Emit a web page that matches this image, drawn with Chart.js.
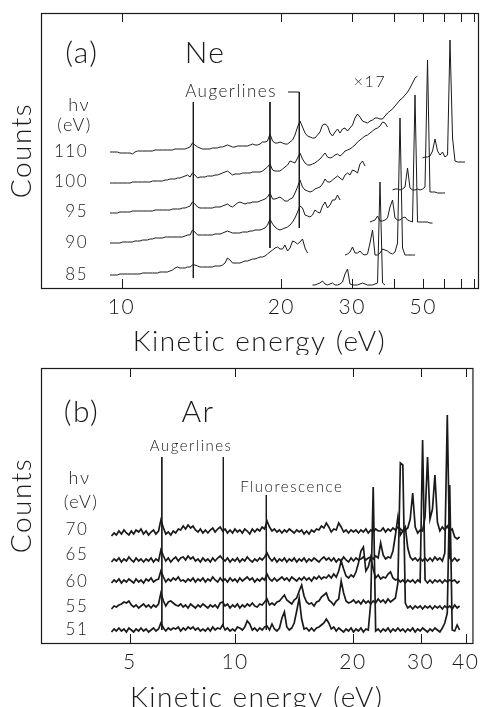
<!DOCTYPE html>
<html><head><meta charset="utf-8">
<script src="https://cdn.jsdelivr.net/npm/chart.js@4.4.1/dist/chart.umd.min.js"></script>
<style>
html,body{margin:0;padding:0;background:#fff;}
#wrap{position:relative;width:485px;height:707px;overflow:hidden;background:#fff;}
canvas{position:absolute;left:0;}
#ca{top:0;} #cb{top:355px;}
</style></head><body>
<div id="wrap"><canvas id="ca" width="485" height="355"></canvas><canvas id="cb" width="485" height="352"></canvas></div>
<script>
// ---------- Panel (a) Ne : kinetic energy grid (eV) ----------
const neEnergy = [9.59,9.68,9.76,9.85,9.94,10.04,10.13,10.22,10.32,10.41,
10.51,10.61,10.71,10.82,10.92,11.02,11.13,11.24,11.35,11.46,
11.57,11.69,11.81,11.92,12.04,12.17,12.29,12.42,12.54,12.67,
12.81,12.94,13.08,13.21,13.35,13.50,13.64,13.79,13.94,14.09,
14.24,14.40,14.56,14.72,14.89,15.06,15.23,15.40,15.58,15.76,
15.94,16.13,16.31,16.51,16.70,16.90,17.11,17.32,17.52,17.74,
17.96,18.18,18.41,18.64,18.87,19.12,19.36,19.61,19.86,20.12,
20.38,20.66,20.93,21.21,21.49,21.79,22.08,22.39,22.70,23.02,
23.34,23.67,24.00,24.35,24.70,25.06,25.43,25.81,26.19,26.58,
26.98,27.40,27.81,28.25,28.68,29.14,29.59,30.07,30.55,31.05,
31.55,32.08,32.60,33.16,33.71,34.29,34.88,35.49,36.10,36.75,
37.39,38.07,38.75,39.47,40.19,40.95,41.71,42.51,43.31,44.16,
45.01,45.91,46.82,47.77,48.73,49.75,50.76,51.84,52.92,54.08,
55.23,56.46,57.69,59.00,60.31,61.72,63.12,64.63,66.13,67.75,
69.36,71.10,72.84];
// counts (offset stacked), hv = 110, 100, 95, 90, 85 eV
const ne110 = [136,136,136,136,135,135,135,135,135,134,
136,137,137,137,137,137,137,137,138,138,
138,138,138,138,138,138,139,139,139,139,
139,140,141,145,143,141,140,139,139,139,
139,140,140,140,141,141,142,143,142,141,
141,142,142,142,142,142,143,144,143,143,
144,146,146,147,154,147,145,145,146,145,
144,144,146,148,153,161,167,161,155,152,
151,150,150,153,156,163,164,162,155,152,
156,159,155,159,160,157,160,163,170,174,
171,167,166,165,167,168,170,170,169,169,
172,175,177,179,182,185,188,190,193,196,
200,205,210,212,null,130,131,131,132,137,
149,137,133,136,131,133,248,150,127,126,
126,126,126];
const ne100 = [105,105,105,105,105,105,105,105,105,106,
106,106,106,106,106,106,106,107,107,107,
107,107,108,108,109,109,109,110,110,111,
112,113,111,115,113,110,111,111,111,112,
112,112,113,113,114,115,116,117,115,113,
114,114,114,115,115,115,115,116,116,116,
116,117,119,121,124,118,117,117,117,119,
121,123,127,126,125,130,135,129,125,123,
123,124,125,127,129,132,135,131,130,131,
133,134,132,134,137,138,139,141,143,146,
148,150,152,153,155,157,159,160,162,166,
165,161,null,98,99,99,98,99,101,120,
100,98,98,99,98,99,101,228,96,96,
96,95,95,95,95];
const ne95 = [75,75,75,75,76,76,76,76,76,77,
77,77,77,77,77,77,77,77,78,78,
78,78,78,78,78,79,79,79,79,80,
80,81,82,86,84,81,80,80,80,80,
80,80,81,81,81,82,83,84,82,81,
83,85,86,85,84,85,85,86,86,86,
87,88,89,91,95,89,89,90,91,89,
87,87,89,90,95,101,108,101,98,97,
96,97,99,100,101,104,109,106,106,108,
110,112,110,108,113,115,113,118,117,115,
124,127,122,null,66,67,68,72,67,67,
68,70,81,88,70,68,68,70,71,68,
67,66,193,66,66,66,66,66,65,65];
const ne90 = [45,45,45,45,45,46,46,46,46,46,
47,47,47,48,48,48,49,49,50,50,
50,50,51,51,51,51,51,51,51,51,
52,53,53,58,56,53,53,53,53,53,
53,53,54,54,54,55,56,57,56,55,
55,55,55,56,56,56,57,57,58,58,
58,59,60,63,69,64,61,59,58,59,
60,61,63,66,70,76,82,80,73,72,
71,73,78,76,75,82,86,80,83,88,
88,93,88,null,33,34,36,41,35,35,
37,34,33,34,45,58,33,33,35,39,
38,37,35,34,36,45,170,40,33,33,
33,33,33];
const ne85 = [13,13,13,13,14,14,14,14,14,14,
14,14,14,15,15,15,15,15,15,15,
16,16,16,16,17,18,20,21,20,20,
20,21,21,23,23,22,21,21,21,21,
21,21,22,22,22,23,25,30,28,25,
25,25,25,26,27,27,28,29,29,30,
31,31,32,34,36,38,40,41,39,39,
43,37,40,47,46,44,46,49,40,35,
null,3,3,4,5,7,4,3,4,5,
3,3,4,6,14,19,4,3,3,3,
4,5,4,3,3,3,4,5,106,5,
3];
const neLabels = ['110','100','95','90','85'];
const neLabelLevels = [136,106,76,45,13];
const neTickE = [10,20,30,40,50,60,70,80];
const neTickLabelE = [10,20,30,50];
const neAxisE = [7.593, 83.19];
const neMarkE = [13.26, 18.87, 22.0];
const neMarkTop = [186, 186, 196];
const neMarkBottom = [10, 40, 60];
const neBracketE = 20.71;

// ---------- Panel (b) Ar ----------
const arEnergy = [4.26,4.34,4.43,4.51,4.60,4.69,4.78,4.87,4.96,5.05,
5.14,5.23,5.33,5.42,5.52,5.62,5.72,5.82,5.92,6.02,
6.13,6.23,6.34,6.44,6.55,6.66,6.77,6.88,7.00,7.11,
7.23,7.34,7.46,7.58,7.70,7.82,7.95,8.07,8.20,8.33,
8.46,8.59,8.72,8.85,8.99,9.13,9.27,9.41,9.55,9.70,
9.85,9.99,10.14,10.29,10.45,10.60,10.76,10.92,11.09,11.25,
11.42,11.59,11.76,11.93,12.10,12.28,12.46,12.64,12.83,13.02,
13.21,13.40,13.59,13.79,13.99,14.19,14.40,14.61,14.82,15.03,
15.25,15.47,15.70,15.93,16.16,16.39,16.63,16.87,17.11,17.36,
17.61,17.87,18.13,18.39,18.66,18.93,19.20,19.48,19.77,20.06,
20.35,20.65,20.95,21.26,21.57,21.88,22.20,22.53,22.86,23.20,
23.55,23.90,24.25,24.61,24.98,25.35,25.73,26.12,26.51,26.91,
27.32,27.73,28.15,28.58,29.02,29.47,29.92,30.38,30.85,31.33,
31.81,32.31,32.81,33.33,33.85,34.39,34.93,35.49,36.05,36.63,
37.22,37.82,38.43];
// hv = 70, 65, 60, 55, 51 eV
const ar70 = [null,107,110,108,112,109,113,110,108,112,
109,113,111,114,109,112,108,111,113,109,
112,123,115,109,111,108,112,110,114,113,
117,114,118,115,117,113,111,114,110,113,
110,113,115,111,114,116,112,114,110,113,
110,114,111,113,110,114,112,109,114,111,
114,112,116,114,122,116,112,114,111,113,
110,113,111,114,112,110,113,111,113,109,
112,109,113,111,114,113,117,115,120,116,
111,114,113,120,116,111,113,110,113,111,
113,110,113,111,114,110,113,111,114,112,
112,115,111,114,112,115,113,116,114,112,
113,115,124,150,116,110,113,112,126,186,
124,134,168,121,112,116,113,117,112,114,
106,104,106];
const ar65 = [null,81,84,82,85,81,84,82,86,83,
81,85,82,84,81,84,82,85,81,84,
82,93,87,82,85,81,84,86,82,85,
86,83,87,84,86,82,84,81,85,82,
84,81,85,82,85,87,84,82,85,81,
84,82,85,81,84,82,86,83,81,84,
82,85,83,86,90,85,82,85,81,84,
82,85,81,84,82,85,81,84,82,85,
81,84,82,85,83,81,84,86,83,85,
82,85,81,84,82,86,83,81,85,82,
85,83,84,86,83,85,86,84,87,85,
100,88,84,86,85,92,108,126,108,112,
116,95,86,83,85,82,85,82,85,82,
85,82,86,83,85,82,90,228,85,82,
85,82,84];
const ar60 = [null,60,63,61,64,60,63,61,64,62,
60,64,61,63,60,64,62,65,61,63,
64,72,66,61,64,62,65,63,66,62,
63,61,64,62,65,61,64,62,65,61,
64,62,66,63,61,65,62,64,61,65,
62,64,61,65,62,64,66,63,65,61,
64,62,65,63,69,64,62,65,62,64,
66,63,65,62,66,64,62,65,63,66,
63,65,62,66,64,67,64,66,65,68,
65,69,66,72,82,74,67,65,68,66,
71,80,92,96,72,76,86,74,65,68,
64,66,65,69,71,65,63,64,61,63,
60,63,61,63,60,63,61,203,63,60,
63,60,63,61,63,60,63,61,63,62,
63,60,62];
const ar55 = [null,34,37,36,38,39,41,40,42,38,
36,38,35,37,39,36,38,35,38,36,
39,50,42,37,41,42,40,38,37,39,
36,38,35,39,37,35,38,36,39,37,
35,38,36,38,35,40,41,37,39,35,
38,36,39,35,38,36,39,37,40,37,
36,39,38,41,44,38,40,38,41,42,
45,48,43,41,39,43,45,52,58,47,
41,39,40,37,41,42,46,48,50,43,
41,38,42,44,62,50,42,40,41,43,
40,42,39,43,40,42,39,42,40,44,
41,43,40,44,41,43,45,60,180,178,
40,35,37,34,37,35,37,34,37,35,
37,34,37,35,37,34,37,35,37,34,
38,35,37];
const ar51 = [null,11,14,12,15,12,14,11,15,13,
11,14,12,15,12,14,11,13,15,12,
14,20,15,12,15,13,15,14,16,12,
15,13,16,14,16,13,15,12,14,12,
15,12,16,13,15,14,18,13,15,12,
14,12,16,15,13,16,22,19,13,15,
12,15,13,16,17,13,19,14,12,15,
25,31,16,13,15,20,32,45,24,14,
15,12,15,12,15,16,18,20,24,20,
14,16,12,15,13,11,14,12,15,11,
14,12,15,11,14,13,40,156,12,14,
11,14,12,15,11,14,12,15,12,14,
11,14,12,15,11,14,12,15,13,11,
14,12,15,13,11,15,20,30,158,13,
12,18,13];
const arLabels = ['70','65','60','55','51'];
const arLabelLevels = [113,88,61,36,13];
const arTickE = [5,10,20,30,40];
const arTickLabelE = [5,10,20,30,40];
const arAxisE = [2.234, 41.83];
const arMarkE = [6.27, 9.31, 12.05];
const arMarkTop = [186, 186, 148];
const arMarkBottom = [13, 16, 13];

const FONT = "Lato, 'Open Sans', 'DejaVu Sans', sans-serif";
const INK = '#1a1a1a';

const framePlugin = {
  id: 'frame',
  beforeDraw(chart) {
    chart.ctx.letterSpacing = '1.5px';
  },
  afterDatasetsDraw(chart, args, opts) {
    const {ctx, chartArea: a, scales: {x, y}} = chart;
    const c = opts.c;
    const tf = e => -1 / Math.sqrt(e + c);
    ctx.save();
    ctx.strokeStyle = INK; ctx.lineWidth = 1.2;
    ctx.strokeRect(a.left + 0.5, a.top + 0.5, a.right - a.left, a.bottom - a.top);
    ctx.lineWidth = 1;
    x.ticks.forEach(t => {
      const px = Math.round(x.getPixelForValue(t.value)) + 0.5;
      ctx.beginPath();
      ctx.moveTo(px, a.top); ctx.lineTo(px, a.top + 9);
      ctx.moveTo(px, a.bottom); ctx.lineTo(px, a.bottom - 9);
      ctx.stroke();
    });
    ctx.fillStyle = INK;
    ctx.textBaseline = 'middle';
    ctx.letterSpacing = '1.5px';
    (opts.texts || []).forEach(t => {
      ctx.font = `300 ${t.size}px ${FONT}`;
      ctx.textAlign = t.align || 'center';
      ctx.fillText(t.text, x.getPixelForValue(tf(t.e)), y.getPixelForValue(t.v));
    });
    ctx.restore();
  }
};

function build(id, p) {
  const tf = e => -1 / Math.sqrt(e + p.c);
  const inv = u => 1 / (u * u) - p.c;
  const datasets = [];
  p.series.forEach(vals => {
    datasets.push({
      data: p.energy.map((e, i) => ({x: tf(e), y: (vals[i] === undefined ? null : vals[i])})),
      borderColor: INK, borderWidth: p.lw, pointRadius: 0, tension: 0, spanGaps: false, fill: false
    });
  });
  p.markE.forEach((e, i) => {
    const pts = [];
    if (p.bracketE !== undefined && i === p.markE.length - 1) pts.push({x: tf(p.bracketE), y: p.markTop[i]});
    pts.push({x: tf(e), y: p.markTop[i]}, {x: tf(e), y: p.markBottom[i]});
    datasets.push({data: pts, borderColor: INK, borderWidth: 1, pointRadius: 0, tension: 0, fill: false});
  });
  const texts = p.texts.slice();
  p.labels.forEach((l, i) => texts.push({text: l, e: p.labelE, v: p.labelLevels[i], size: 17, align: 'right'}));
  new Chart(document.getElementById(id), {
    type: 'line',
    data: {datasets},
    plugins: [framePlugin],
    options: {
      responsive: false, animation: false, devicePixelRatio: 1,
      layout: {padding: {left: 0, right: 7, top: 13, bottom: 0}},
      plugins: {legend: {display: false}, tooltip: {enabled: false}, frame: {c: p.c, texts}},
      scales: {
        x: {
          type: 'linear', position: 'bottom', min: tf(p.axisE[0]), max: tf(p.axisE[1]),
          grid: {display: false, drawTicks: false}, border: {display: false},
          afterBuildTicks: s => { s.ticks = p.tickE.map(e => ({value: tf(e)})); },
          afterFit: s => { s.height = p.height - 288; },
          ticks: {
            autoSkip: false, maxRotation: 0, padding: 7, color: INK,
            font: {family: FONT, size: 21, weight: '300'},
            callback: v => { const e = Math.round(inv(v)); return p.tickLabelE.includes(e) ? String(e) : ''; }
          },
          title: {display: true, text: 'Kinetic energy (eV)', color: INK,
                  font: {family: FONT, size: 28, weight: '300'}, padding: {top: 0, bottom: p.titlePad}}
        },
        y: {
          type: 'linear', min: 0, max: 275,
          grid: {display: false, drawTicks: false}, border: {display: false},
          ticks: {display: false},
          afterFit: s => { s.width = 41; },
          title: {display: true, text: 'Counts', color: INK,
                  font: {family: FONT, size: 28, weight: '300'}, padding: {top: 5, bottom: 0}}
        }
      }
    }
  });
}

build('ca', {
  c: 0, height: 355, lw: 1, titlePad: -4,
  energy: neEnergy, series: [ne110, ne100, ne95, ne90, ne85],
  axisE: neAxisE, tickE: neTickE, tickLabelE: neTickLabelE,
  markE: neMarkE, markTop: neMarkTop, markBottom: neMarkBottom, bracketE: neBracketE,
  labels: neLabels, labelLevels: neLabelLevels, labelE: 8.875,
  texts: [
    {text: '(a)', e: 8.69, v: 235, size: 30},
    {text: 'Ne', e: 13.94, v: 235, size: 30},
    {text: '\u00d717', e: 33.71, v: 206, size: 16},
    {text: 'Augerlines', e: 15.65, v: 196, size: 17},
    {text: 'h\u03bd', e: 8.61, v: 183, size: 18},
    {text: '(eV)', e: 8.48, v: 163, size: 18}
  ]
});
build('cb', {
  c: 8, height: 352, lw: 1.7, titlePad: -8,
  energy: arEnergy, series: [ar70, ar65, ar60, ar55, ar51],
  axisE: arAxisE, tickE: arTickE, tickLabelE: arTickLabelE,
  markE: arMarkE, markTop: arMarkTop, markBottom: arMarkBottom,
  labels: arLabels, labelLevels: arLabelLevels, labelE: 3.58,
  texts: [
    {text: '(b)', e: 3.37, v: 231, size: 30},
    {text: 'Ar', e: 7.95, v: 231, size: 30},
    {text: 'Augerlines', e: 7.61, v: 197, size: 15},
    {text: 'Fluorescence', e: 13.99, v: 156, size: 15},
    {text: 'h\u03bd', e: 3.31, v: 165, size: 18},
    {text: '(eV)', e: 3.36, v: 141, size: 18}
  ]
});
</script>
</body></html>
